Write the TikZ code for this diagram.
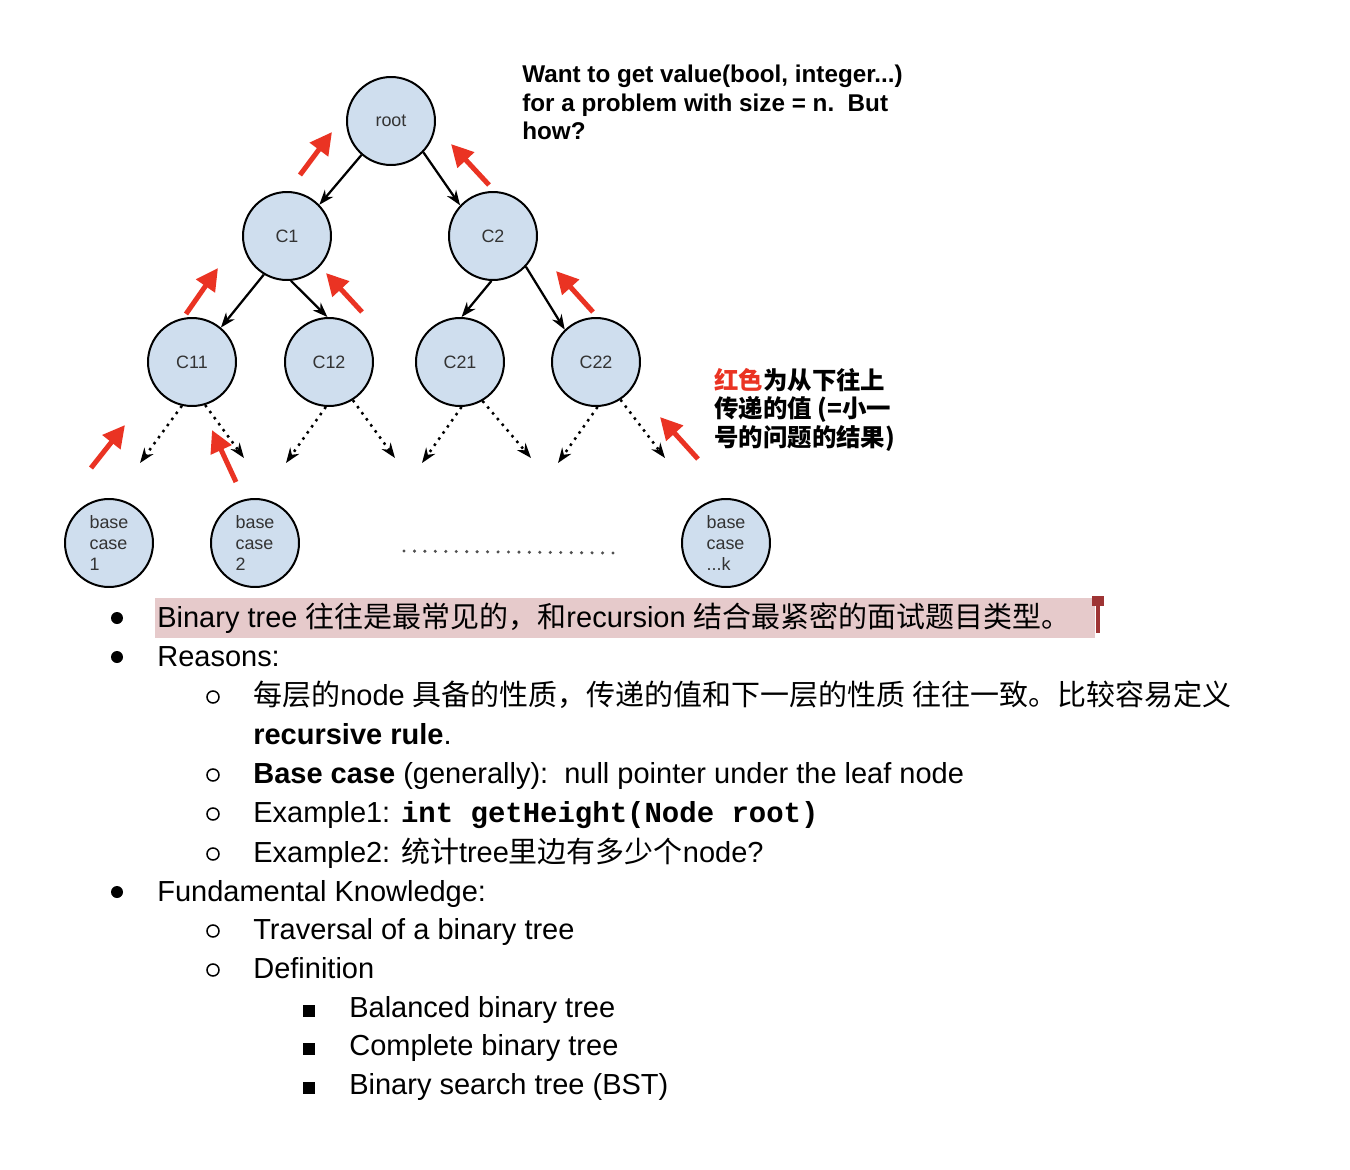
\documentclass[tikz,border=0pt]{standalone}
\usepackage{fontspec}
\setmainfont{Liberation Sans}
\setmonofont{Liberation Mono}
\newfontfamily\cjk{Noto Sans CJK SC}
\usetikzlibrary{
    arrows.meta,
    positioning,
    calc
}
\tikzset{
  tnode/.style   = {circle, draw=black, line width=0.04cm, fill=nodeBlue,
                    minimum size=1.76cm, inner sep=0pt, text=labelGray,
                    font=\fontsize{10.2}{11.9}\selectfont},
  bnode/.style   = {tnode, align=left},
  arr/.style     = {-{Stealth[length=0.3cm, width=0.22cm]}, line width=0.045cm},
  dotarr/.style  = {arr, line width=0.05cm, dash pattern=on 0.05cm off 0.1cm},
  redarr/.style  = {-{Triangle[length=0.44cm, width=0.44cm]}, line width=0.1cm, arrRed},
  item/.style    = {anchor=base west, inner sep=0pt,
                    font=\fontsize{16.5}{19.8}\selectfont}
}
\definecolor{nodeBlue}{RGB}{207,222,238}
\definecolor{labelGray}{RGB}{51,51,51}
\definecolor{arrRed}{RGB}{234,51,35}
\definecolor{markPink}{RGB}{230,202,203}
\definecolor{cursorRed}{RGB}{158,52,52}
\definecolor{dotGray}{RGB}{80,80,80}

\begin{document}
\begin{tikzpicture}[x=0.02cm, y=-0.02cm]
  \useasboundingbox (0,0) rectangle (1350,1170);
  \fill[white] (0,0) rectangle (1350,1170);

  % Tree nodes
  \node[tnode] (root) at (391,121) {root};
  \node[tnode] (C1)  at (287,236) {C1};
  \node[tnode] (C2)  at (493,236) {C2};
  \node[tnode] (C11) at (192,362) {C11};
  \node[tnode] (C12) at (329,362) {C12};
  \node[tnode] (C21) at (460,362) {C21};
  \node[tnode] (C22) at (596,362) {C22};
  \node[bnode] (B1)  at (109,543) {base\\case\\1};
  \node[bnode] (B2)  at (255,543) {base\\case\\2};
  \node[bnode] (Bk)  at (726,543) {base\\case\\...k};

  % Parent to child
  \draw[arr] (root.229) -- (C1.44);
  \draw[arr] (root.-44) -- (C2.137);
  \draw[arr] (C1.239) -- (C11.50);
  \draw[arr] (C1.-85) -- (C12.92);
  \draw[arr] (C2.-92) -- (C21.88);
  \draw[arr] (C2.-43) -- (C22.134);

  % Dotted edges to the lower levels
  \foreach \n/\la/\lx/\ra/\rx in {C11/257/-52/287/52, C12/266/-43/302/66,
                                  C21/272/-38/300/71, C22/272/-38/303/69} {
    \coordinate (\n-l) at ($(\n)+(\lx,101)$);
    \coordinate (\n-r) at ($(\n)+(\rx,96)$);
    \draw[dotarr] (\n.\la) -- (\n-l);
    \draw[dotarr] (\n.\ra) -- (\n-r);
  }

  % Values going up
  \foreach \xa/\ya/\xb/\yb in {300/175/332/132, 489/185/451/144,
                               186/314/218/268, 362/312/326/273,
                               593/312/556/271, 91/468/125/425,
                               236/482/212/430, 698/459/660/417}
    \draw[redarr] (\xa,\ya) -- (\xb,\yb);

  % Gap between base cases
  \foreach \i in {0,...,20}
    \fill[dotGray] ({404+10.45*\i},{551+0.1*\i}) circle (1.7);

  % Notes
  \node[anchor=north west, inner sep=0pt, align=left,
        font=\bfseries\fontsize{13.8}{16.2}\selectfont] (question) at (522,65)
    {Want to get value(bool, integer...)\\for a problem with size = n.\ \ But\\how?};
  \node[anchor=north west, inner sep=0pt, align=left,
        font={\cjk\bfseries\fontsize{13.9}{16.2}\selectfont}] (note) at (714,368)
    {\textcolor{arrRed}{红色}为从下往上\\传递的值 (=小一\\号的问题的结果)};

  % List
  \fill[markPink] (155,598) rectangle (1095,638);
  \fill[cursorRed] (1096,600) rectangle (1100,633);
  \fill[cursorRed] (1092,596) rectangle (1104,606);

  \foreach \y in {618,657,892}
    \fill (117,\y) circle (6);
  \foreach \y in {697,775,814,854,931,970}
    \draw[line width=0.03cm] (213,\y) circle (6);
  \foreach \y in {1017,1055,1094}
    \fill (303,\y-12) rectangle (315,\y);

  \node[item] (t1)  at (157,627) {Binary tree {\cjk 往往是最常见的，和}recursion {\cjk 结合最紧密的面试题目类型。}};
  \node[item] (t2)  at (157,666) {Reasons:};
  \node[item] (t3)  at (253,705) {{\cjk 每层的}node {\cjk 具备的性质，传递的值和下一层的性质 往往一致。比较容易定义}};
  \node[item] (t4)  at (253,744) {\textbf{recursive rule}.};
  \node[item] (t5)  at (253,783) {\textbf{Base case} (generally):\ \ null pointer under the leaf node};
  \node[item] (t6)  at (253,822) {Example1: \texttt{\textbf{int getHeight(Node root)}}};
  \node[item] (t7)  at (253,862) {Example2: {\cjk 统计}tree{\cjk 里边有多少个}node?};
  \node[item] (t8)  at (157,901) {Fundamental Knowledge:};
  \node[item] (t9)  at (253,939) {Traversal of a binary tree};
  \node[item] (t10) at (253,978) {Definition};
  \node[item] (t11) at (349,1017) {Balanced binary tree};
  \node[item] (t12) at (349,1055) {Complete binary tree};
  \node[item] (t13) at (349,1094) {Binary search tree (BST)};
\end{tikzpicture}
\end{document}
